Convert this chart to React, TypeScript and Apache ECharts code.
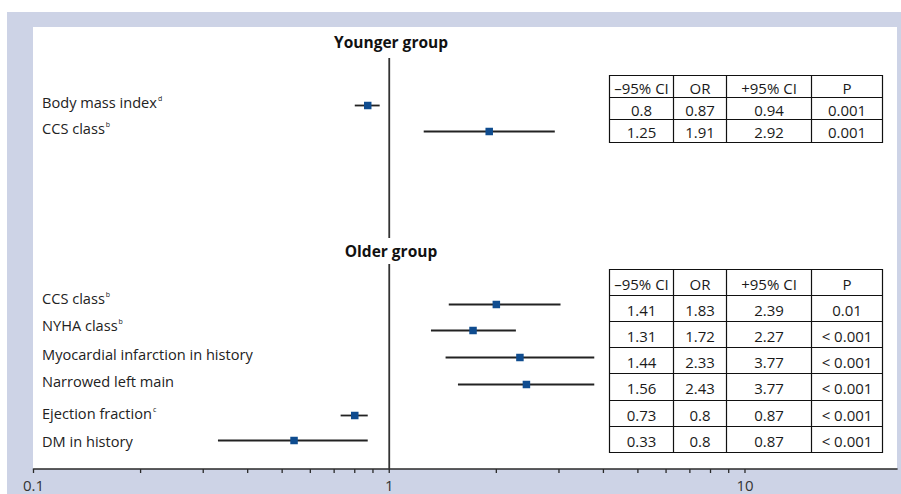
import React, { useEffect, useRef } from 'react';
import * as echarts from 'echarts';

// ---------- data ----------
const youngerLabels = ['Body mass index', 'CCS class'];
const youngerSup = ['d', 'b'];
const youngerLow = [0.8, 1.25];
const youngerOR = [0.87, 1.91];
const youngerHigh = [0.94, 2.92];
const youngerP = ['0.001', '0.001'];

const olderLabels = [
  'CCS class',
  'NYHA class',
  'Myocardial infarction in history',
  'Narrowed left main',
  'Ejection fraction',
  'DM in history',
];
const olderSup = ['b', 'b', '', '', 'c', ''];
// values printed in the table
const olderLow = [1.41, 1.31, 1.44, 1.56, 0.73, 0.33];
const olderOR = [1.83, 1.72, 2.33, 2.43, 0.8, 0.8];
const olderHigh = [2.39, 2.27, 3.77, 3.77, 0.87, 0.87];
const olderP = ['0.01', '< 0.001', '< 0.001', '< 0.001', '< 0.001', '< 0.001'];
// values as drawn in the plot
const olderPlotLow = [1.47, 1.31, 1.44, 1.56, 0.73, 0.33];
const olderPlotOR = [2.0, 1.72, 2.33, 2.43, 0.8, 0.54];
const olderPlotHigh = [3.03, 2.27, 3.77, 3.77, 0.87, 0.87];

const tableHeader = ['–95% CI', 'OR', '+95% CI', 'P'];
const titles = ['Younger group', 'Older group'];
const tickValues = [0.1, 0.2, 0.3, 0.4, 0.5, 0.6, 0.7, 0.8, 0.9, 1, 2, 3, 4, 5, 6, 7, 8, 9, 10];
const tickLabelValues = [0.1, 1, 10];
const refValue = 1;

// ---------- layout ----------
const W = 901;
const H = 494;
const FONT = "'Open Sans', 'Noto Sans', sans-serif";
const Y_MIN = 27;
const Y_MAX = 469;
const X_MAX = 26.75;
const youngerMarkY = [105.5, 131.5];
const youngerLabelY = [102, 128];
const olderMarkY = [304.5, 330.5, 357.5, 384.5, 415.5, 440.5];
const olderLabelY = [298, 325, 354, 381, 413, 441];
const refLineY = [58, Y_MAX];
const colX = [609.5, 673.5, 726.5, 811.5, 882.5];
const youngerRowY = [75.5, 97.5, 119.5, 142.5];
const olderRowY = [269.5, 295.5, 321.5, 347.5, 373.5, 400.5, 426.5, 452.5];
const titleY = [42, 251];
const titleX = 391;
const labelX = 42;

function buildTable(rowY: number[], rows: string[][]) {
  const els: any[] = [];
  els.push({
    type: 'rect',
    z: 5,
    shape: { x: colX[0], y: rowY[0], width: colX[4] - colX[0], height: rowY[rowY.length - 1] - rowY[0] },
    style: { fill: '#fff', stroke: '#111', lineWidth: 1.2 },
  });
  for (let i = 1; i < rowY.length - 1; i++) {
    els.push({
      type: 'line',
      z: 6,
      shape: { x1: colX[0], y1: rowY[i], x2: colX[4], y2: rowY[i] },
      style: { stroke: '#111', lineWidth: 1.2 },
    });
  }
  for (let c = 1; c < colX.length - 1; c++) {
    els.push({
      type: 'line',
      z: 6,
      shape: { x1: colX[c], y1: rowY[0], x2: colX[c], y2: rowY[rowY.length - 1] },
      style: { stroke: '#111', lineWidth: 1.2 },
    });
  }
  const all = [tableHeader, ...rows];
  all.forEach((row, r) => {
    row.forEach((txt, c) => {
      els.push({
        type: 'text',
        z: 7,
        x: (colX[c] + colX[c + 1]) / 2,
        y: (rowY[r] + rowY[r + 1]) / 2 + 1,
        style: {
          text: txt,
          align: 'center',
          verticalAlign: 'middle',
          fontFamily: FONT,
          fontSize: 15,
          fill: '#1a1a1a',
        },
      });
    });
  });
  return els;
}

function buildLabels(labels: string[], sups: string[], ys: number[]) {
  return labels.map((l, i) => ({
    type: 'text',
    z: 7,
    x: labelX,
    y: ys[i],
    style: {
      text: sups[i] ? `${l}{s|${sups[i]}}` : l,
      align: 'left',
      verticalAlign: 'middle',
      fontFamily: FONT,
      fontSize: 14.6,
      fill: '#222',
      rich: {
        s: { fontSize: 7, verticalAlign: 'top', fontFamily: FONT, fill: '#222', padding: [0, 0, 0, 1] },
      },
    },
  }));
}

export default function App() {
  const ref = useRef<HTMLDivElement>(null);
  useEffect(() => {
    const chart = echarts.init(ref.current!, null, { renderer: 'svg', width: W, height: H });

    const forestData = [
      ...youngerLow.map((v, i) => [v, youngerOR[i], youngerHigh[i], youngerMarkY[i]]),
      ...olderPlotLow.map((v, i) => [v, olderPlotOR[i], olderPlotHigh[i], olderMarkY[i]]),
    ];

    const youngerRows = youngerLow.map((v, i) => [String(v), String(youngerOR[i]), String(youngerHigh[i]), youngerP[i]]);
    const olderRows = olderLow.map((v, i) => [String(v), String(olderOR[i]), String(olderHigh[i]), olderP[i]]);

    const option: any = {
      animation: false,
      backgroundColor: '#fff',
      grid: { left: 33.5, right: W - 897, top: Y_MIN, height: Y_MAX - Y_MIN, containLabel: false },
      xAxis: {
        type: 'log',
        logBase: 10,
        min: 0.1,
        max: X_MAX,
        axisLine: { show: true, lineStyle: { color: '#2a2a2a', width: 1.6 } },
        axisTick: { show: false },
        splitLine: { show: false },
        minorTick: { show: false },
        axisLabel: {
          show: true,
          margin: 8,
          fontSize: 15,
          fontFamily: FONT,
          color: '#333',
          showMaxLabel: false,
          hideOverlap: false,
          formatter: (v: number) => {
            const m = tickLabelValues.find((a) => Math.abs(a - v) / a < 1e-6);
            return m !== undefined ? String(m) : '';
          },
        },
      },
      yAxis: { type: 'value', min: Y_MIN, max: Y_MAX, inverse: true, show: false },
      graphic: [
        { type: 'rect', z: -20, shape: { x: 7, y: 12, width: W - 7, height: H - 12 }, style: { fill: '#cdd3e6' } },
        { type: 'rect', z: -19, shape: { x: 33, y: Y_MIN, width: 864, height: Y_MAX - Y_MIN }, style: { fill: '#fff' } },
        {
          type: 'text', z: 8, x: titleX, y: titleY[0],
          style: { text: titles[0], align: 'center', verticalAlign: 'middle', fontFamily: FONT, fontSize: 15.5, fontWeight: 'bold', fill: '#111' },
        },
        {
          type: 'text', z: 8, x: titleX, y: titleY[1],
          style: {
            text: titles[1], align: 'center', verticalAlign: 'middle', fontFamily: FONT, fontSize: 15.5, fontWeight: 'bold', fill: '#111',
            backgroundColor: '#fff', padding: [5, 1, 5, 1],
          },
        },
        ...buildLabels(youngerLabels, youngerSup, youngerLabelY),
        ...buildLabels(olderLabels, olderSup, olderLabelY),
        ...buildTable(youngerRowY, youngerRows),
        ...buildTable(olderRowY, olderRows),
      ],
      series: [
        {
          type: 'line',
          data: refLineY.map((y) => [refValue, y]),
          symbol: 'none',
          lineStyle: { color: '#333', width: 1.8 },
          z: 1,
          silent: true,
        },
        {
          type: 'custom',
          z: 3,
          encode: { x: [0, 1, 2], y: 3 },
          data: forestData,
          renderItem: (params: any, api: any) => {
            const y = api.value(3);
            const lo = api.coord([api.value(0), y]);
            const mid = api.coord([api.value(1), y]);
            const hi = api.coord([api.value(2), y]);
            return {
              type: 'group',
              children: [
                { type: 'line', shape: { x1: lo[0], y1: lo[1], x2: hi[0], y2: hi[1] }, style: { stroke: '#222', lineWidth: 1.8 } },
                { type: 'rect', shape: { x: mid[0] - 3.75, y: mid[1] - 3.75, width: 7.5, height: 7.5 }, style: { fill: '#0f4c8f' } },
              ],
            };
          },
        },
        {
          type: 'custom',
          z: 3,
          encode: { x: 0, y: 1 },
          data: tickValues.map((v) => [v, Y_MAX]),
          renderItem: (params: any, api: any) => {
            const p = api.coord([api.value(0), api.value(1)]);
            return { type: 'line', shape: { x1: p[0], y1: p[1], x2: p[0], y2: p[1] + 4 }, style: { stroke: '#2a2a2a', lineWidth: 1.3 } };
          },
        },
      ],
    };
    chart.setOption(option);
    return () => chart.dispose();
  }, []);
  return <div ref={ref} style={{ position: 'fixed', left: 0, top: 0, width: W, height: H }} />;
}
